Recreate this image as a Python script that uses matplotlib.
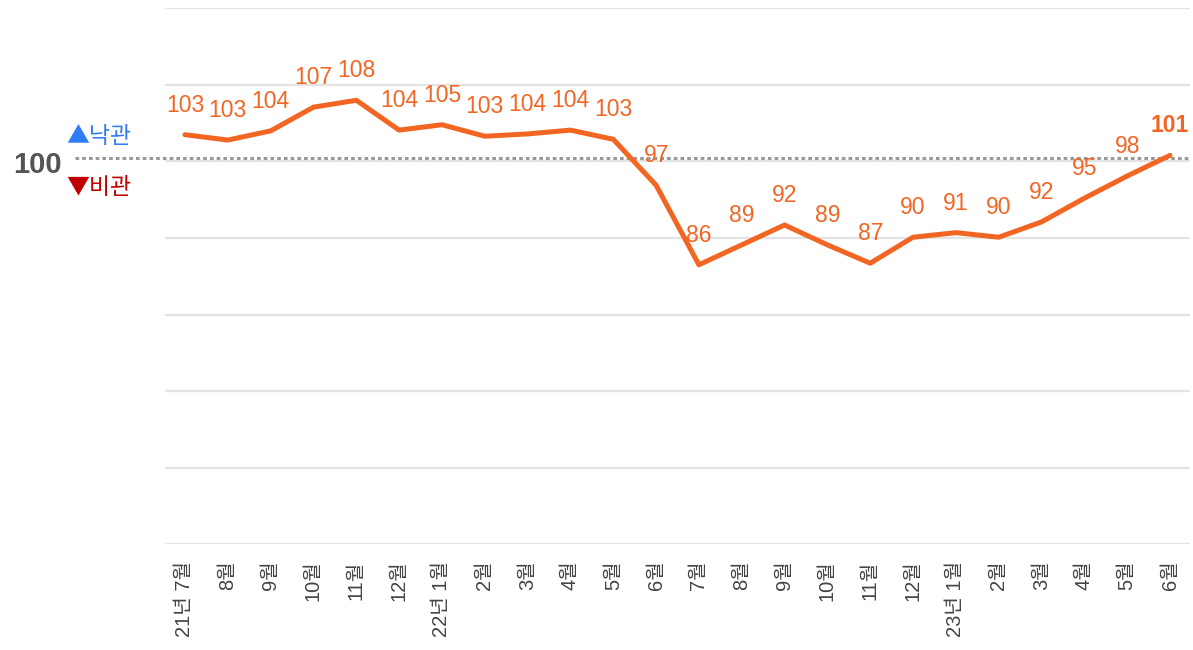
import matplotlib.pyplot as plt

plt.rcParams['font.family'] = ['Liberation Sans', 'Noto Sans CJK KR', 'DejaVu Sans']

months = ['21년 7월', '8월', '9월', '10월', '11월', '12월', '22년 1월', '2월', '3월', '4월', '5월', '6월',
          '7월', '8월', '9월', '10월', '11월', '12월', '23년 1월', '2월', '3월', '4월', '5월', '6월']
values = [103.5, 102.8, 104.0, 107.1, 108.0, 104.1, 104.8, 103.3, 103.6, 104.1, 102.9, 96.9,
          86.5, 89.1, 91.7, 89.1, 86.7, 90.1, 90.7, 90.1, 92.1, 95.2, 98.1, 100.8]
labels = [103, 103, 104, 107, 108, 104, 105, 103, 104, 104, 103, 97,
          86, 89, 92, 89, 87, 90, 91, 90, 92, 95, 98, 101]

orange = '#f26522'

fig = plt.figure(figsize=(11.93, 6.5), dpi=100)
ax = fig.add_axes([0.1383, 0.163, 0.8592, 0.824])

x = list(range(len(months)))
ax.set_xlim(-0.467, len(months) - 1 + 0.467)
ax.set_ylim(50, 120)

# grid
for g in range(50, 121, 10):
    ax.axhline(g, color='#e3e3e3', linewidth=1.6, zorder=0)

ax.plot(x, values, color=orange, linewidth=3.6, solid_capstyle='round', zorder=3)

for i, (v, lab) in enumerate(zip(values, labels)):
    last = i == len(values) - 1
    ax.annotate(str(lab), (i, v), xytext=(0, 13), textcoords='offset points',
                ha='center', va='bottom', fontsize=16.5, color=orange,
                fontweight='bold' if last else 'normal', zorder=4)

# reference line at 100
ax.plot([-2.57, len(months) - 1 + 0.467], [100.5, 100.5], color='#999999', linewidth=2.2,
        linestyle=(0, (1.2, 1.0)), clip_on=False, zorder=2)
ax.text(-3.45, 99.6, '100', ha='center', va='center', fontsize=21, fontweight='bold',
        color='#555555', clip_on=False)
ax.text(-2.78, 103.3, '▲낙관', ha='left', va='center', fontsize=16.5, color='#2f7cf6',
        family=['Noto Sans CJK KR', 'DejaVu Sans'], clip_on=False)
ax.text(-2.78, 96.6, '▼비관', ha='left', va='center', fontsize=16.5, color='#c00000',
        family=['Noto Sans CJK KR', 'DejaVu Sans'], clip_on=False)

ax.set_xticks(x)
ax.set_xticklabels(months, rotation=90, fontsize=14.5, color='#444444',
                   family=['Liberation Sans', 'Noto Sans CJK KR', 'DejaVu Sans'])
ax.tick_params(axis='x', length=0, pad=12)
ax.set_yticks([])
for s in ax.spines.values():
    s.set_visible(False)

plt.savefig('out.png', dpi=100)
